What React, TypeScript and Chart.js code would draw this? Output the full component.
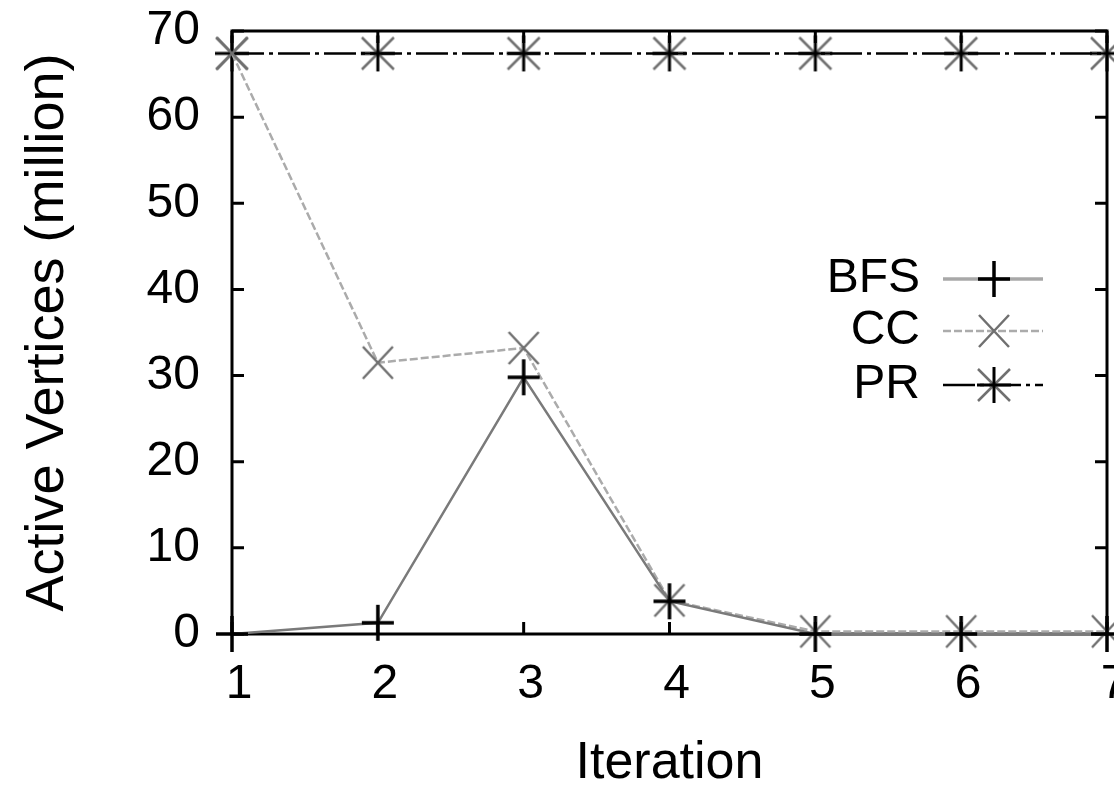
import React, { useEffect, useRef } from 'react';
import { Chart, registerables } from 'chart.js';

Chart.register(...registerables);

const iterations = ['1', '2', '3', '4', '5', '6', '7'];
const bfsValues = [0, 1.3, 29.8, 3.8, 0, 0, 0];
const ccValues = [67.4, 31.5, 33.2, 3.9, 0.3, 0.3, 0.3];
const prValues = [67.4, 67.4, 67.4, 67.4, 67.4, 67.4, 67.4];
const seriesNames = ['BFS', 'CC', 'PR'];
const yMin = 0;
const yMax = 70;
const yStep = 10;
const xTitle = 'Iteration';
const yTitle = 'Active Vertices (million)';

const FONT = '"Liberation Sans", Arial, Helvetica, sans-serif';

function makeMarker(kind: string): HTMLCanvasElement {
  const s = 46;
  const c = document.createElement('canvas');
  c.width = s;
  c.height = s;
  const g = c.getContext('2d') as CanvasRenderingContext2D;
  const m = s / 2;
  const plus = (hw: number, hh: number, color: string, lw: number) => {
    g.strokeStyle = color;
    g.lineWidth = lw;
    g.beginPath();
    g.moveTo(m - hw, m);
    g.lineTo(m + hw, m);
    g.moveTo(m, m - hh);
    g.lineTo(m, m + hh);
    g.stroke();
  };
  const cross = (hw: number, hh: number, color: string, lw: number) => {
    g.strokeStyle = color;
    g.lineWidth = lw;
    g.beginPath();
    g.moveTo(m - hw, m - hh);
    g.lineTo(m + hw, m + hh);
    g.moveTo(m - hw, m + hh);
    g.lineTo(m + hw, m - hh);
    g.stroke();
  };
  if (kind === 'plus') {
    plus(16, 18, '#000', 3.5);
  } else if (kind === 'x') {
    cross(15, 16, '#707070', 2.5);
  } else {
    cross(16, 16, '#707070', 2.5);
    plus(17, 18, '#000', 3);
  }
  return c;
}

export default function App() {
  const ref = useRef<HTMLCanvasElement | null>(null);

  useEffect(() => {
    if (!ref.current) return;
    const plusImg = makeMarker('plus');
    const xImg = makeMarker('x');
    const starImg = makeMarker('star');

    const styles = [
      { color: '#7a7a7a', width: 2.5, dash: [] as number[], img: plusImg },
      { color: '#ababab', width: 2.5, dash: [8, 3], img: xImg },
      { color: '#000000', width: 2.5, dash: [32, 5, 4, 5], img: starImg },
    ];
    const values = [bfsValues, ccValues, prValues];

    const framePlugin = {
      id: 'frame',
      beforeDatasetsDraw(chart: any) {
        const { ctx, chartArea } = chart;
        const { left, right, top, bottom } = chartArea;
        const xs = chart.scales.x;
        const ys = chart.scales.y;
        ctx.save();
        ctx.strokeStyle = '#000';
        ctx.lineWidth = 3;
        ctx.strokeRect(left, top, right - left, bottom - top);
        ctx.beginPath();
        const tl = 12;
        ys.ticks.forEach((t: any) => {
          const y = ys.getPixelForValue(t.value);
          ctx.moveTo(left, y);
          ctx.lineTo(left + tl, y);
          ctx.moveTo(right, y);
          ctx.lineTo(right - tl, y);
        });
        iterations.forEach((_, i) => {
          const x = xs.getPixelForValue(i);
          ctx.moveTo(x, bottom);
          ctx.lineTo(x, bottom - tl);
          ctx.moveTo(x, top);
          ctx.lineTo(x, top + tl);
        });
        ctx.stroke();
        ctx.restore();
      },
    };

    const legendPlugin = {
      id: 'customLegend',
      afterDatasetsDraw(chart: any) {
        const { ctx } = chart;
        const rowsY = [279, 331, 385];
        ctx.save();
        ctx.font = `48px ${FONT}`;
        ctx.fillStyle = '#000';
        ctx.textAlign = 'right';
        ctx.textBaseline = 'middle';
        seriesNames.forEach((name, i) => {
          const y = rowsY[i];
          ctx.fillText(name, 920, y);
          const st = styles[i];
          ctx.strokeStyle = i === 0 ? '#a8a8a8' : st.color;
          ctx.lineWidth = i === 0 ? 3.5 : st.width;
          ctx.setLineDash(st.dash);
          ctx.beginPath();
          ctx.moveTo(943, y);
          ctx.lineTo(1043, y);
          ctx.stroke();
          ctx.setLineDash([]);
          ctx.drawImage(st.img, 994 - st.img.width / 2, y - st.img.height / 2);
        });
        ctx.restore();
      },
    };

    const chart = new Chart(ref.current, {
      type: 'line',
      data: {
        labels: iterations,
        datasets: seriesNames.map((name, i) => ({
          label: name,
          data: values[i],
          borderColor: styles[i].color,
          borderWidth: styles[i].width,
          borderDash: styles[i].dash,
          backgroundColor: styles[i].color,
          pointStyle: styles[i].img as any,
          pointRadius: 16,
          tension: 0,
          fill: false,
          clip: false as any,
        })),
      },
      options: {
        animation: false,
        responsive: false,
        devicePixelRatio: 1,
        layout: {
          autoPadding: false,
          padding: { left: 0, right: 7, top: 31, bottom: 0 },
        } as any,
        plugins: {
          legend: { display: false },
          tooltip: { enabled: false },
        },
        scales: {
          x: {
            type: 'category',
            offset: false,
            grid: { display: false, drawTicks: false },
            border: { display: false },
            ticks: {
              color: '#000',
              font: { family: FONT, size: 48 },
              padding: 22,
              labelOffset: 7,
              maxRotation: 0,
              autoSkip: false,
            },
            title: {
              display: true,
              text: xTitle,
              color: '#000',
              font: { family: FONT, size: 52, lineHeight: 1 },
              padding: { top: 0, bottom: 0 },
            },
            afterFit(scale: any) {
              scale.height = 156;
              scale.paddingLeft = 0;
              scale.paddingRight = 0;
              scale.paddingTop = 0;
              scale.paddingBottom = 0;
            },
          },
          y: {
            min: yMin,
            max: yMax,
            grid: { display: false, drawTicks: false },
            border: { display: false },
            ticks: {
              stepSize: yStep,
              color: '#000',
              font: { family: FONT, size: 48 },
              padding: 32,
            },
            title: {
              display: true,
              text: yTitle,
              color: '#000',
              font: { family: FONT, size: 54, lineHeight: 1 },
              padding: { top: 21, bottom: 0 },
            },
            afterFit(scale: any) {
              scale.width = 232;
              scale.paddingLeft = 0;
              scale.paddingRight = 0;
              scale.paddingTop = 0;
              scale.paddingBottom = 0;
            },
          },
        },
      },
      plugins: [framePlugin, legendPlugin],
    });

    return () => chart.destroy();
  }, []);

  return (
    <div style={{ position: 'fixed', left: 0, top: 0, width: 1114, height: 790, background: '#fff' }}>
      <canvas ref={ref} width={1114} height={790} style={{ display: 'block' }} />
    </div>
  );
}
